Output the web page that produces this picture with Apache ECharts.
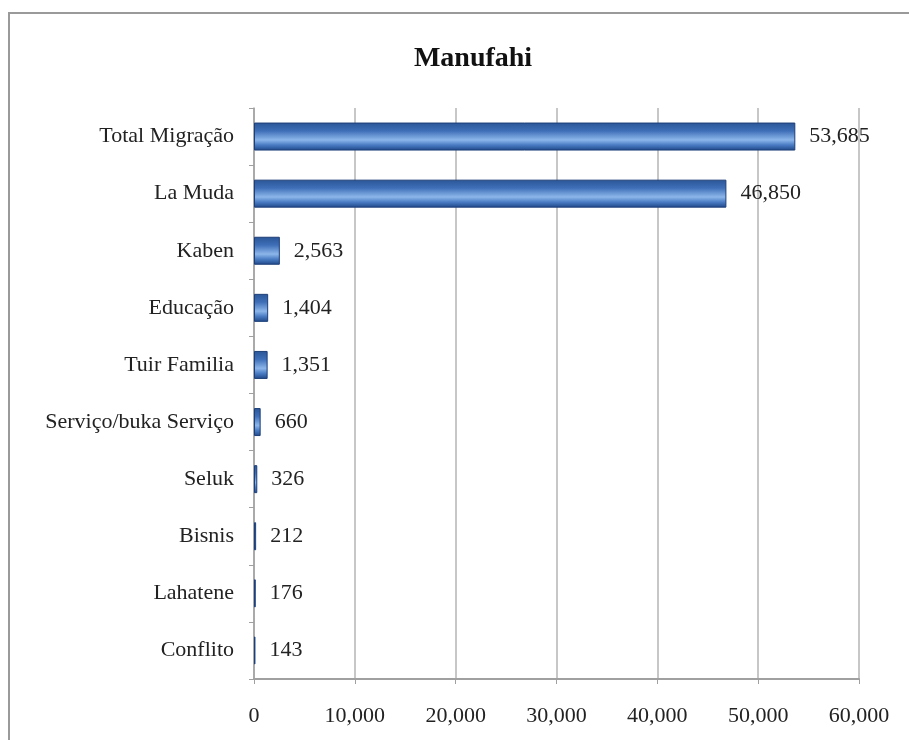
<!DOCTYPE html>
<html>
<head>
<meta charset="utf-8">
<script src="https://cdn.jsdelivr.net/npm/echarts@6/dist/echarts.min.js"></script>
<style>
  html, body { margin: 0; padding: 0; background: #fff; }
  #main { width: 909px; height: 740px; }
</style>
</head>
<body>
<div id="main"></div>
<script>
// categories, top to bottom
var categories = ['Total Migração', 'La Muda', 'Kaben', 'Educação', 'Tuir Familia',
  'Serviço/buka Serviço', 'Seluk', 'Bisnis', 'Lahatene', 'Conflito'];
var values = [53685, 46850, 2563, 1404, 1351, 660, 326, 212, 176, 143];
var xTicks = [0, 10000, 20000, 30000, 40000, 50000, 60000];

var serif = '"Liberation Serif", "DejaVu Serif", serif';

function fmt(v) {
  return String(v).replace(/\B(?=(\d{3})+(?!\d))/g, ',');
}

var myChart = echarts.init(document.getElementById('main'));

var option = {
  animation: false,
  title: {
    text: 'Manufahi',
    left: 468,
    top: 40,
    textAlign: 'center',
    textStyle: { fontFamily: serif, fontSize: 28, fontWeight: 'bold', color: '#111' }
  },
  // outer frame of the chart
  graphic: [{
    type: 'rect',
    shape: { x: 9, y: 13, width: 930, height: 760 },
    style: { fill: 'none', stroke: '#9a9a9a', lineWidth: 2 },
    silent: true
  }],
  grid: { left: 254, right: 50, top: 108, bottom: 61 },
  xAxis: {
    type: 'value',
    min: xTicks[0],
    max: xTicks[xTicks.length - 1],
    interval: 10000,
    axisLine: { show: true, lineStyle: { color: '#a0a0a0', width: 2 } },
    axisTick: { show: true, length: 5, lineStyle: { color: '#a0a0a0' } },
    splitLine: { show: true, lineStyle: { color: '#b4b4b4', width: 1.5 } },
    axisLabel: {
      formatter: fmt,
      fontFamily: serif,
      fontSize: 22,
      color: '#222',
      margin: 26
    }
  },
  yAxis: {
    type: 'category',
    data: categories,
    inverse: true,
    axisLine: { show: true, lineStyle: { color: '#a0a0a0', width: 1.5 } },
    axisTick: { show: true, length: 5, lineStyle: { color: '#a0a0a0' } },
    axisLabel: {
      fontFamily: serif,
      fontSize: 22,
      color: '#222',
      margin: 20
    }
  },
  series: [{
    type: 'bar',
    data: values,
    barWidth: 28,
    itemStyle: {
      color: new echarts.graphic.LinearGradient(0, 0, 0, 1, [
        { offset: 0, color: '#2a5597' },
        { offset: 0.3, color: '#3f6fb8' },
        { offset: 0.62, color: '#8cb6ea' },
        { offset: 0.8, color: '#4a7cc4' },
        { offset: 1, color: '#1f4787' }
      ]),
      borderColor: '#1c3f78',
      borderWidth: 1
    },
    label: {
      show: true,
      position: 'right',
      distance: 14,
      formatter: function (p) { return fmt(p.value); },
      fontFamily: serif,
      fontSize: 22,
      color: '#222'
    }
  }]
};

myChart.setOption(option);
</script>
</body>
</html>
